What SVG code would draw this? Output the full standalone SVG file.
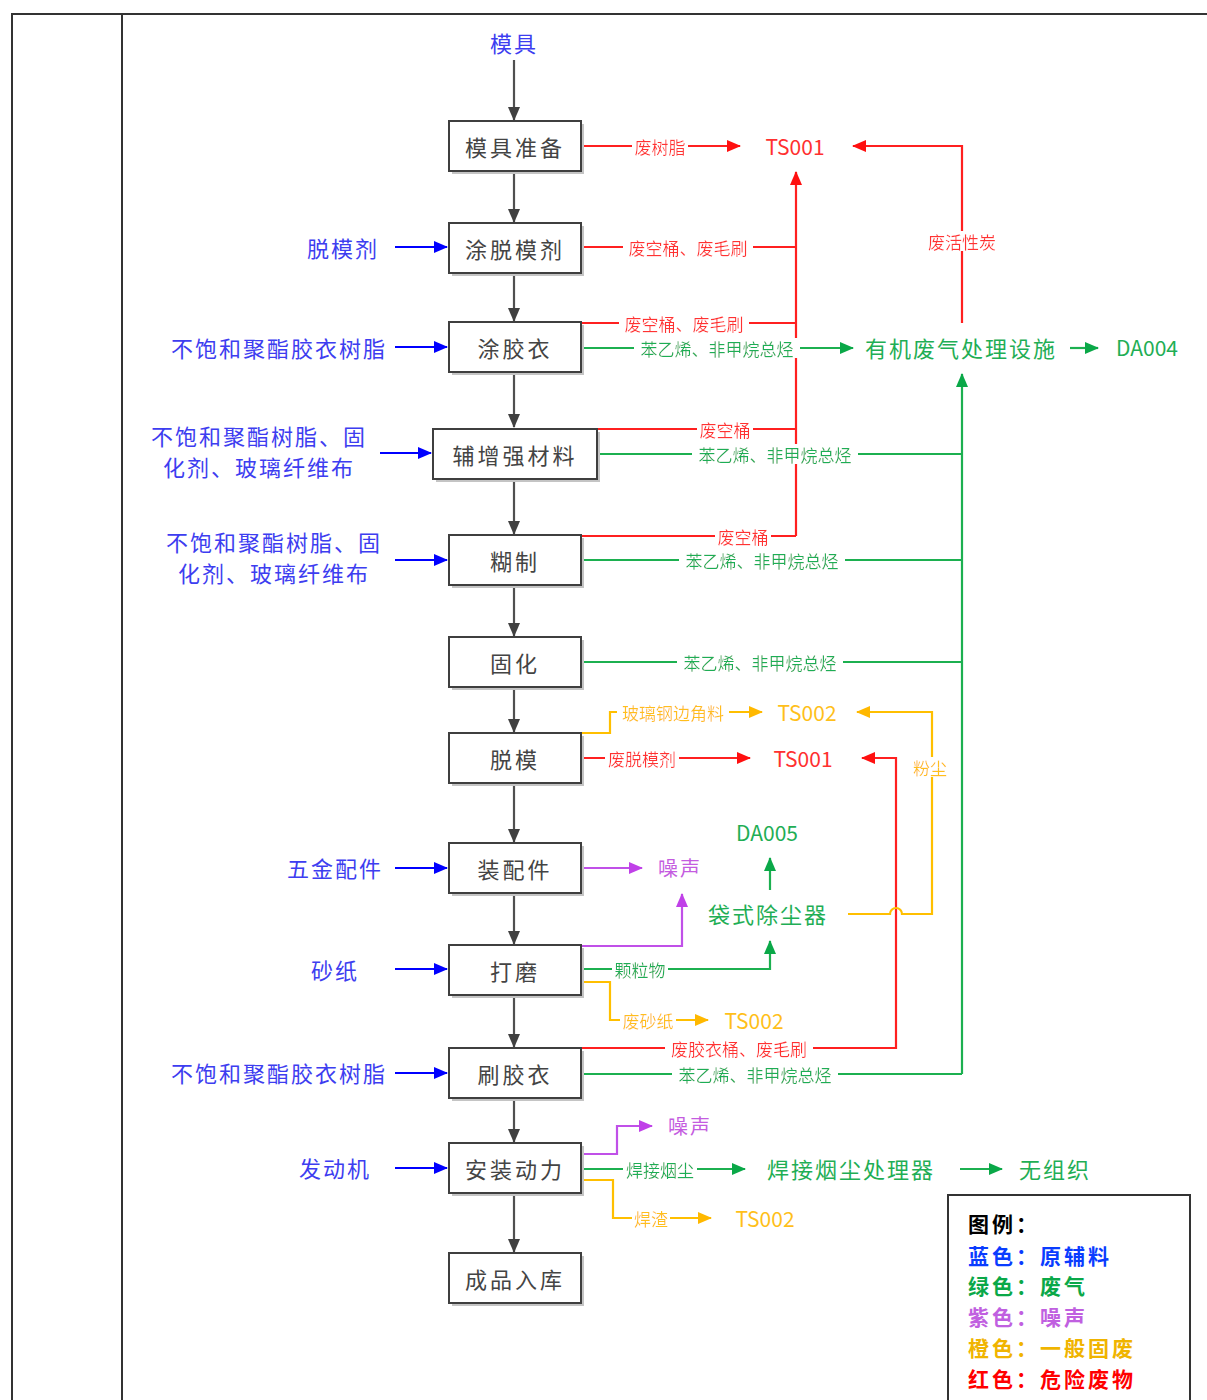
<svg xmlns="http://www.w3.org/2000/svg" width="1207" height="1400" viewBox="0 0 1207 1400">
<style>
text{font-family:"Noto Sans CJK SC","Liberation Sans",sans-serif;dominant-baseline:central}
.box rect.f{fill:#fff;stroke:#3f3f3f;stroke-width:2}
.box rect.s{fill:#c4c4c4}
.box text{font-size:22px;fill:#444;text-anchor:middle;letter-spacing:3px}
.in{font-size:22px;fill:#3d3df0;letter-spacing:2px}
.lbl{font-size:17px;text-anchor:middle;filter:url(#bg)}
.t{font-size:21px;text-anchor:middle}
.r{fill:#ff3030}.g{fill:#1fae55}.p{fill:#c45ce0}.o{fill:#ffbf1a}.b{fill:#3d3df0}
.lr{stroke:#ff2020}.lg{stroke:#1cb050}.lp{stroke:#c050e8}.lo{stroke:#ffbf00}.lb{stroke:#0000ff}.lk{stroke:#505050}
#conn path{fill:none;stroke-width:2.2}
.leg{font-size:21px;font-weight:bold;letter-spacing:3px}
</style>
<defs>
<filter id="bg" x="-0.04" y="0.1" width="1.08" height="0.8"><feFlood flood-color="#fff"/><feComposite in="SourceGraphic" operator="over"/></filter>
<marker id="ar" markerUnits="userSpaceOnUse" markerWidth="14" markerHeight="12" refX="13" refY="6" orient="auto"><path d="M0,0L14,6L0,12z" fill="#ff1010"/></marker>
<marker id="ag" markerUnits="userSpaceOnUse" markerWidth="14" markerHeight="12" refX="13" refY="6" orient="auto"><path d="M0,0L14,6L0,12z" fill="#0aa848"/></marker>
<marker id="ap" markerUnits="userSpaceOnUse" markerWidth="14" markerHeight="12" refX="13" refY="6" orient="auto"><path d="M0,0L14,6L0,12z" fill="#c040e8"/></marker>
<marker id="ao" markerUnits="userSpaceOnUse" markerWidth="14" markerHeight="12" refX="13" refY="6" orient="auto"><path d="M0,0L14,6L0,12z" fill="#ffb800"/></marker>
<marker id="ab" markerUnits="userSpaceOnUse" markerWidth="14" markerHeight="12" refX="13" refY="6" orient="auto"><path d="M0,0L14,6L0,12z" fill="#0000ff"/></marker>
<marker id="ak" markerUnits="userSpaceOnUse" markerWidth="14" markerHeight="12" refX="13" refY="6" orient="auto"><path d="M0,0L14,6L0,12z" fill="#404040"/></marker>
</defs>
<rect width="1207" height="1400" fill="#fff"/>
<g id="frame" fill="none" stroke="#333" stroke-width="2">
<path d="M12,1400V14H1207"/>
<path d="M122,14V1400"/>
</g>

<g id="conn">
<!-- main flow -->
<path class="lk" d="M514,60V120" marker-end="url(#ak)"/>
<path class="lk" d="M514,172V222" marker-end="url(#ak)"/>
<path class="lk" d="M514,274V321" marker-end="url(#ak)"/>
<path class="lk" d="M514,373V427" marker-end="url(#ak)"/>
<path class="lk" d="M514,480V534" marker-end="url(#ak)"/>
<path class="lk" d="M514,586V636" marker-end="url(#ak)"/>
<path class="lk" d="M514,688V732" marker-end="url(#ak)"/>
<path class="lk" d="M514,784V842" marker-end="url(#ak)"/>
<path class="lk" d="M514,894V944" marker-end="url(#ak)"/>
<path class="lk" d="M514,996V1047" marker-end="url(#ak)"/>
<path class="lk" d="M514,1099V1142" marker-end="url(#ak)"/>
<path class="lk" d="M514,1194V1252" marker-end="url(#ak)"/>
<!-- blue inputs -->
<path class="lb" d="M395,247H447" marker-end="url(#ab)"/>
<path class="lb" d="M395,347H447" marker-end="url(#ab)"/>
<path class="lb" d="M380,453H431" marker-end="url(#ab)"/>
<path class="lb" d="M395,560H447" marker-end="url(#ab)"/>
<path class="lb" d="M395,868H447" marker-end="url(#ab)"/>
<path class="lb" d="M395,969H447" marker-end="url(#ab)"/>
<path class="lb" d="M395,1073H447" marker-end="url(#ab)"/>
<path class="lb" d="M395,1168H447" marker-end="url(#ab)"/>
<!-- red -->
<path class="lr" d="M582,146H740" marker-end="url(#ar)"/>
<path class="lr" d="M962,323V146H853" marker-end="url(#ar)"/>
<path class="lr" d="M796,536V172" marker-end="url(#ar)"/>
<path class="lr" d="M582,247H796"/>
<path class="lr" d="M582,323H796"/>
<path class="lr" d="M598,429H796"/>
<path class="lr" d="M582,536H796"/>
<path class="lr" d="M582,758H750" marker-end="url(#ar)"/>
<path class="lr" d="M582,1048H896V758H862" marker-end="url(#ar)"/>
<!-- green -->
<path class="lg" d="M582,348H853" marker-end="url(#ag)"/>
<path class="lg" d="M1070,348H1098" marker-end="url(#ag)"/>
<path class="lg" d="M962,1074V374" marker-end="url(#ag)"/>
<path class="lg" d="M598,454H962"/>
<path class="lg" d="M582,560H962"/>
<path class="lg" d="M582,662H962"/>
<path class="lg" d="M582,1074H962"/>
<path class="lg" d="M582,969H770V941" marker-end="url(#ag)"/>
<path class="lg" d="M770,890V858" marker-end="url(#ag)"/>
<path class="lg" d="M582,1169H745" marker-end="url(#ag)"/>
<path class="lg" d="M960,1169H1002" marker-end="url(#ag)"/>
<!-- orange -->
<path class="lo" d="M582,733H610V712H762" marker-end="url(#ao)"/>
<path class="lo" d="M848,914H890A6,6 0 0 1 902,914H932V712H857" marker-end="url(#ao)"/>
<path class="lo" d="M582,982H610V1020H708" marker-end="url(#ao)"/>
<path class="lo" d="M582,1180H613V1218H711" marker-end="url(#ao)"/>
<!-- purple -->
<path class="lp" d="M582,868H642" marker-end="url(#ap)"/>
<path class="lp" d="M582,946H682V894" marker-end="url(#ap)"/>
<path class="lp" d="M582,1154H617V1126H652" marker-end="url(#ap)"/>
<!-- connector labels -->
<text class="lbl r" x="660" y="146">废树脂</text>
<text class="lbl r" x="962" y="241">废活性炭</text>
<text class="lbl r" x="688" y="247">废空桶、废毛刷</text>
<text class="lbl r" x="684" y="323">废空桶、废毛刷</text>
<text class="lbl r" x="725" y="429">废空桶</text>
<text class="lbl r" x="743" y="536">废空桶</text>
<text class="lbl r" x="642" y="758">废脱模剂</text>
<text class="lbl r" x="739" y="1048">废胶衣桶、废毛刷</text>
<text class="lbl g" x="717" y="348">苯乙烯、非甲烷总烃</text>
<text class="lbl g" x="775" y="454">苯乙烯、非甲烷总烃</text>
<text class="lbl g" x="762" y="560">苯乙烯、非甲烷总烃</text>
<text class="lbl g" x="760" y="662">苯乙烯、非甲烷总烃</text>
<text class="lbl g" x="755" y="1074">苯乙烯、非甲烷总烃</text>
<text class="lbl g" x="640" y="969">颗粒物</text>
<text class="lbl g" x="660" y="1169">焊接烟尘</text>
<text class="lbl o" x="673" y="712">玻璃钢边角料</text>
<text class="lbl o" x="930" y="767">粉尘</text>
<text class="lbl o" x="648" y="1020">废砂纸</text>
<text class="lbl o" x="651" y="1218">焊渣</text>
</g>

<g id="n-mould-in"><text class="in" x="514" y="42" text-anchor="middle">模具</text></g>
<g id="n1" class="box"><rect class="s" x="452" y="124" width="132" height="50"/><rect class="f" x="449" y="121" width="132" height="50"/><text x="515" y="146">模具准备</text></g>
<g id="n2" class="box"><rect class="s" x="452" y="226" width="132" height="50"/><rect class="f" x="449" y="223" width="132" height="50"/><text x="515" y="248">涂脱模剂</text></g>
<g id="n3" class="box"><rect class="s" x="452" y="325" width="132" height="50"/><rect class="f" x="449" y="322" width="132" height="50"/><text x="515" y="347">涂胶衣</text></g>
<g id="n4" class="box"><rect class="s" x="436" y="432" width="164" height="50"/><rect class="f" x="433" y="429" width="164" height="50"/><text x="515" y="454">辅增强材料</text></g>
<g id="n5" class="box"><rect class="s" x="452" y="538" width="132" height="50"/><rect class="f" x="449" y="535" width="132" height="50"/><text x="515" y="560">糊制</text></g>
<g id="n6" class="box"><rect class="s" x="452" y="640" width="132" height="50"/><rect class="f" x="449" y="637" width="132" height="50"/><text x="515" y="662">固化</text></g>
<g id="n7" class="box"><rect class="s" x="452" y="736" width="132" height="50"/><rect class="f" x="449" y="733" width="132" height="50"/><text x="515" y="758">脱模</text></g>
<g id="n8" class="box"><rect class="s" x="452" y="846" width="132" height="50"/><rect class="f" x="449" y="843" width="132" height="50"/><text x="515" y="868">装配件</text></g>
<g id="n9" class="box"><rect class="s" x="452" y="948" width="132" height="50"/><rect class="f" x="449" y="945" width="132" height="50"/><text x="515" y="970">打磨</text></g>
<g id="n10" class="box"><rect class="s" x="452" y="1051" width="132" height="50"/><rect class="f" x="449" y="1048" width="132" height="50"/><text x="515" y="1073">刷胶衣</text></g>
<g id="n11" class="box"><rect class="s" x="452" y="1146" width="132" height="50"/><rect class="f" x="449" y="1143" width="132" height="50"/><text x="515" y="1168">安装动力</text></g>
<g id="n12" class="box"><rect class="s" x="452" y="1256" width="132" height="50"/><rect class="f" x="449" y="1253" width="132" height="50"/><text x="515" y="1278">成品入库</text></g>

<g id="inputs">
<text class="in" x="379" y="247" text-anchor="end">脱模剂</text>
<text class="in" x="387" y="347" text-anchor="end">不饱和聚酯胶衣树脂</text>
<text class="in" x="259" y="435" text-anchor="middle">不饱和聚酯树脂、固</text>
<text class="in" x="259" y="466" text-anchor="middle">化剂、玻璃纤维布</text>
<text class="in" x="274" y="541" text-anchor="middle">不饱和聚酯树脂、固</text>
<text class="in" x="274" y="572" text-anchor="middle">化剂、玻璃纤维布</text>
<text class="in" x="383" y="867" text-anchor="end">五金配件</text>
<text class="in" x="359" y="969" text-anchor="end">砂纸</text>
<text class="in" x="387" y="1072" text-anchor="end">不饱和聚酯胶衣树脂</text>
<text class="in" x="371" y="1167" text-anchor="end">发动机</text>
</g>

<g id="n-ts001a"><text class="t r" x="795" y="146">TS001</text></g>
<g id="n-voc"><text class="t g" x="961" y="347" style="font-size:22px;letter-spacing:2px">有机废气处理设施</text></g>
<g id="n-da004"><text class="t g" x="1147" y="347">DA004</text></g>
<g id="n-ts002a"><text class="t o" x="807" y="712">TS002</text></g>
<g id="n-ts001b"><text class="t r" x="803" y="758">TS001</text></g>
<g id="n-da005"><text class="t g" x="767" y="832">DA005</text></g>
<g id="n-noise1"><text class="t p" x="680" y="867" style="font-size:20px;letter-spacing:2px">噪声</text></g>
<g id="n-bag"><text class="t g" x="768" y="913" style="font-size:22px;letter-spacing:2px">袋式除尘器</text></g>
<g id="n-ts002b"><text class="t o" x="754" y="1020">TS002</text></g>
<g id="n-noise2"><text class="t p" x="690" y="1125" style="font-size:20px;letter-spacing:2px">噪声</text></g>
<g id="n-weld"><text class="t g" x="851" y="1168" style="font-size:22px;letter-spacing:2px">焊接烟尘处理器</text></g>
<g id="n-wzz"><text class="t g" x="1055" y="1168" style="font-size:22px;letter-spacing:2px">无组织</text></g>
<g id="n-ts002c"><text class="t o" x="765" y="1218">TS002</text></g>

<g id="legend">
<rect x="948" y="1195" width="242" height="230" fill="#fff" stroke="#333" stroke-width="2"/>
<text class="leg" x="968" y="1223" fill="#000">图例：</text>
<text class="leg" x="968" y="1255" fill="#0a3cff">蓝色：原辅料</text>
<text class="leg" x="968" y="1285" fill="#0aa848">绿色：废气</text>
<text class="leg" x="968" y="1316" fill="#c060e0">紫色：噪声</text>
<text class="leg" x="968" y="1347" fill="#f0b400">橙色：一般固废</text>
<text class="leg" x="968" y="1378" fill="#ff0000">红色：危险废物</text>
</g>
</svg>
